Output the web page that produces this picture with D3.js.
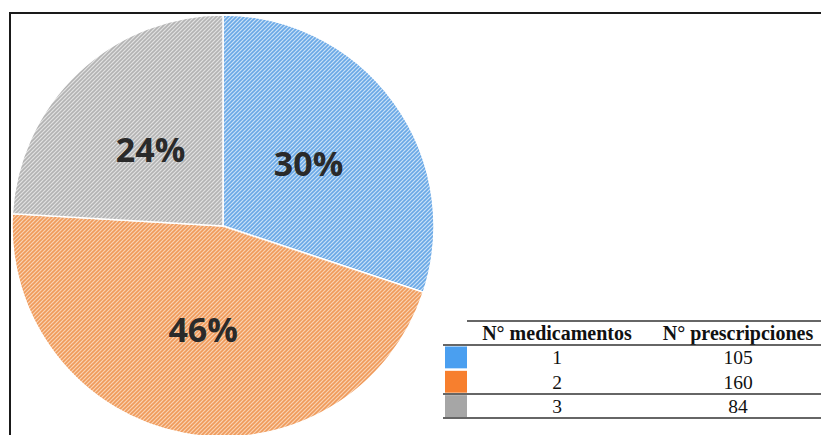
<!DOCTYPE html>
<html>
<head>
<meta charset="utf-8">
<script src="https://cdn.jsdelivr.net/npm/d3@7/dist/d3.min.js"></script>
<style>
  html, body { margin: 0; padding: 0; background: #fff; }
  svg { display: block; }
</style>
</head>
<body>
<svg id="chart" width="821" height="435"></svg>
<script>
// ---- data ----
const categories = ["1", "2", "3"];
const prescriptions = [105, 160, 84];
const headers = ["N\u00B0 medicamentos", "N\u00B0 prescripciones"];
const swatchColors = ["#4a9ff0", "#f77f2e", "#a6a6a6"];
const hatchBg = ["#cae1f7", "#f9d3b4", "#e2e2e2"];
const hatchFg = ["#69a8e6", "#f09a5a", "#b3b3b3"];

const svg = d3.select("#chart");
const W = 821, H = 435;

// patterns
const defs = svg.append("defs");
categories.forEach((c, i) => {
  const p = defs.append("pattern")
    .attr("id", "hatch" + i)
    .attr("patternUnits", "userSpaceOnUse")
    .attr("width", 4).attr("height", 4);
  p.append("rect").attr("width", 4).attr("height", 4).attr("fill", hatchBg[i]);
  p.append("path")
    .attr("d", "M-1,1 L1,-1 M0,4 L4,0 M3,5 L5,3")
    .attr("stroke", hatchFg[i]).attr("stroke-width", 1.6);
});

// frame
svg.append("line").attr("x1", 9).attr("x2", W).attr("y1", 13).attr("y2", 13)
  .attr("stroke", "#1a1a1a").attr("stroke-width", 2);
svg.append("line").attr("x1", 10).attr("x2", 10).attr("y1", 12).attr("y2", H)
  .attr("stroke", "#1a1a1a").attr("stroke-width", 2);

// pie
const cx = 223, cy = 226, R = 211;
const total = d3.sum(prescriptions);
const pie = d3.pie().sort(null).value(d => d)(prescriptions);
const arc = d3.arc().innerRadius(0).outerRadius(R);
const g = svg.append("g").attr("transform", `translate(${cx},${cy})`);
g.selectAll("path.slice").data(pie).join("path")
  .attr("class", "slice")
  .attr("d", arc)
  .attr("fill", (d, i) => `url(#hatch${i})`)
  .attr("stroke", "#fff").attr("stroke-width", 1.5);

g.selectAll("text.lbl").data(pie).join("text")
  .attr("class", "lbl")
  .attr("transform", d => `translate(${arc.centroid(d)})`)
  .attr("text-anchor", "middle")
  .attr("dy", "0.36em")
  .attr("font-family", "'Open Sans', sans-serif")
  .attr("font-weight", "bold")
  .attr("font-size", 34)
  .attr("fill", "#2a2a2a")
  .text(d => Math.round(d.value / total * 100) + "%");

// table
const tbl = svg.append("g").attr("font-family", "'Liberation Serif', 'Times New Roman', serif").attr("fill", "#111");
const colX = [557, 738];
const rowY = d3.scaleBand().domain(categories).range([345, 418]).padding(0);
const lineColor = "#333";

tbl.append("line").attr("x1", 467).attr("x2", W).attr("y1", 321).attr("y2", 321)
  .attr("stroke", lineColor).attr("stroke-width", 1.5);
tbl.selectAll("text.hdr").data(headers).join("text")
  .attr("class", "hdr")
  .attr("x", (d, i) => colX[i]).attr("y", 340)
  .attr("text-anchor", "middle")
  .attr("font-weight", "bold").attr("font-size", 20)
  .text(d => d);

[345, 394, 418].forEach(y => {
  tbl.append("line").attr("x1", 443).attr("x2", W).attr("y1", y).attr("y2", y)
    .attr("stroke", lineColor).attr("stroke-width", 1.5);
});

categories.forEach((c, i) => {
  const y0 = rowY(c);
  tbl.append("rect").attr("x", 445).attr("y", y0 + 1.5)
    .attr("width", 22).attr("height", rowY.bandwidth() - 2.5)
    .attr("fill", swatchColors[i]);
  tbl.append("text").attr("x", colX[0]).attr("y", y0 + rowY.bandwidth() - 5)
    .attr("text-anchor", "middle").attr("font-size", 19.5).text(c);
  tbl.append("text").attr("x", colX[1]).attr("y", y0 + rowY.bandwidth() - 5)
    .attr("text-anchor", "middle").attr("font-size", 19.5).text(prescriptions[i]);
});
</script>
</body>
</html>
